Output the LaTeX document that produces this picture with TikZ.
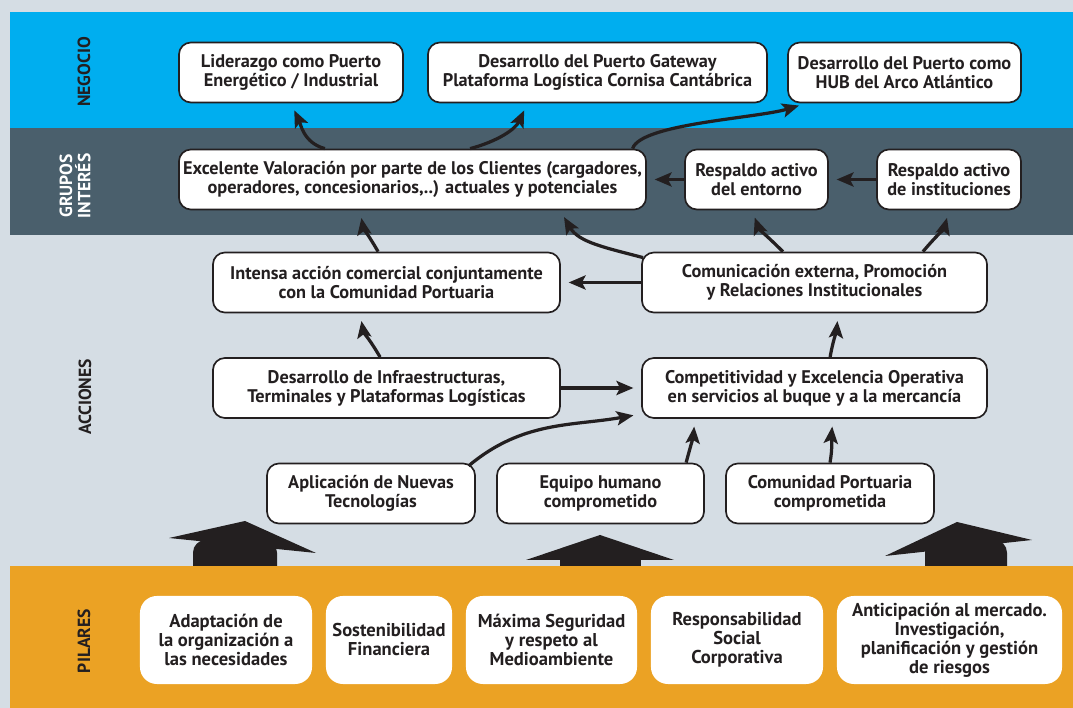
\documentclass[tikz,border=0pt]{standalone}
\usepackage{fontspec}
\setsansfont{PT Sans}
\usetikzlibrary{arrows.meta}
\definecolor{ink}{RGB}{35,31,32}
\definecolor{cBack}{RGB}{213,221,228}
\definecolor{cNeg}{RGB}{0,174,239}
\definecolor{cGrp}{RGB}{74,95,108}
\definecolor{cPil}{RGB}{235,162,36}

\begin{document}
\begin{tikzpicture}[
  x=0.025cm, y=0.025cm,
  font=\sffamily\bfseries,
  >={Stealth[length=12pt, width=10pt, inset=2.5pt]},
  goal/.style={rounded corners=8.5pt, draw=ink, line width=1.2pt, fill=white, text=ink, align=center, minimum height=1.5cm, inner sep=1pt, font=\sffamily\bfseries\fontsize{13}{13.5}\selectfont},
  pilar/.style={rounded corners=12pt, fill=white, text=ink, align=center, minimum height=2.2cm, inner sep=1pt, font=\sffamily\bfseries\fontsize{13.2}{13.5}\selectfont},
  band/.style={rotate=90, align=center, text=ink, font=\sffamily\bfseries\fontsize{12.5}{13}\selectfont},
  link/.style={->, line width=2.3pt, draw=ink, shorten >=5.5pt},
]

% ---- bands ----
\fill[cBack] (0,0) rectangle (1073,708);
\useasboundingbox (0,0) rectangle (1073,708);
\fill[cNeg] (10,580) rectangle (1073,696);
\fill[cGrp] (10,473) rectangle (1073,580);

% ---- the three caps standing on the pillars ----
\fill[ink] (169,170) -- (245,187) -- (316,155) -- cycle;
\fill[ink, rounded corners=9pt] (193,120) -- (193,168) -- (277,168) -- (277,120) -- cycle;
\fill[ink] (526,148) -- (600,173) -- (674,148) -- cycle;
\fill[ink] (560,120) rectangle (641,150);
\fill[ink] (885,152) -- (957,186) -- (1032,168) -- cycle;
\fill[ink, rounded corners=9pt] (925,120) -- (925,168) -- (1007,168) -- (1007,120) -- cycle;

\fill[cPil] (10,0) rectangle (1073,142);

% ---- band labels ----
\node[band] (lNeg) at (84,636) {NEGOCIO};
\node[band, text=white] (lGrp) at (75,522) {GRUPOS\\INTERÉS};
\node[band] (lAcc) at (85,311) {ACCIONES};
\node[band] (lPil) at (84,67) {PILARES};

% ---- negocio ----
\node[goal, minimum width=5.6cm] (N1) at (291,635.5) {Liderazgo como Puerto\\Energético / Industrial};
\node[goal, minimum width=8.475cm] (N2) at (597.5,635.5) {Desarrollo del Puerto Gateway\\Plataforma Logística Cornisa Cantábrica};
\node[goal, minimum width=5.825cm] (N3) at (904.5,635.5) {Desarrollo del Puerto como\\HUB del Arco Atlántico};

% ---- grupos de interes ----
\node[goal, minimum width=11.675cm] (G1) at (412.5,528.5) {Excelente Valoración por parte de los Clientes (cargadores,\\operadores, concesionarios,..) actuales y potenciales};
\node[goal, minimum width=3.575cm] (G2) at (756.5,528.5) {Respaldo activo\\del entorno};
\node[goal, minimum width=3.6cm] (G3) at (949,528.5) {Respaldo activo\\de instituciones};

% ---- acciones ----
\node[goal, minimum width=8.675cm] (A1) at (386.5,425.5) {Intensa acción comercial conjuntamente\\con la Comunidad Portuaria};
\node[goal, minimum width=8.625cm] (A2) at (814.5,425.5) {Comunicación externa, Promoción\\y Relaciones Institucionales};
\node[goal, minimum width=8.675cm] (A3) at (386.5,320) {Desarrollo de Infraestructuras,\\Terminales y Plataformas Logísticas};
\node[goal, minimum width=8.625cm] (A4) at (814.5,320) {Competitividad y Excelencia Operativa\\en servicios al buque y a la mercancía};
\node[goal, minimum width=5.2cm] (A5) at (371,214.5) {Aplicación de Nuevas\\Tecnologías};
\node[goal, minimum width=5.175cm] (A6) at (600.5,214.5) {Equipo humano\\comprometido};
\node[goal, minimum width=5.2cm] (A7) at (830,214.5) {Comunidad Portuaria\\comprometida};

% ---- pilares ----
\node[pilar, minimum width=4.3cm] (P1) at (226,68) {Adaptación de\\la organización a\\las necesidades};
\node[pilar, minimum width=3.15cm] (P2) at (389,68) {Sostenibilidad\\Financiera};
\node[pilar, minimum width=4.275cm] (P3) at (551.5,68) {Máxima Seguridad\\y respeto al\\Medioambiente};
\node[pilar, minimum width=4.3cm] (P4) at (737,68) {Responsabilidad\\Social\\Corporativa};
\node[pilar, minimum width=5.625cm] (P5) at (949.5,68) {Anticipación al mercado.\\Investigación,\\planificación y gestión\\de riesgos};

% ---- links ----
\draw[link] ([xshift=-2.19cm]G1.north) to[out=165,in=-65] (N1.south);
\draw[link] ([xshift=1.44cm]G1.north) to[out=15,in=-115] ([xshift=-1.75cm]N2.south);
\draw[link] ([xshift=5.5cm]G1.north) .. controls +(8,25) and +(-50,-15) .. ([xshift=-2.45cm]N3.south);
\draw[link] (G2.west) -- (G1.east);
\draw[link] (G3.west) -- (G2.east);

\draw[link] ([shift={(0.05cm,-0.15cm)}]A2.north west) to[out=165,in=-60] ([xshift=3.69cm]G1.south);
\draw[link] ([xshift=-0.79cm]A2.north) to[out=135,in=-70] ([xshift=-0.11cm]G2.south);
\draw[link] ([xshift=2.71cm]A2.north) to[out=50,in=-105] (G3.south);
\draw[link] ([xshift=-0.21cm]A1.north) to[out=120,in=-80] ([xshift=-1.31cm]G1.south);
\draw[link] (A2.west) -- (A1.east);
\draw[link] ([xshift=-0.16cm]A3.north) to[out=120,in=-80] ([xshift=-0.66cm]A1.south);
\draw[link] (A3.east) -- (A4.west);
\draw[link] ([shift={(-0.18cm,-0.08cm)}]A5.north east) to[out=40,in=190] ([yshift=-0.65cm]A4.west);
\draw[link] ([xshift=2.14cm]A6.north) to[out=75,in=-95] ([xshift=-2.99cm]A4.south);
\draw[link] (A7.north) to[out=80,in=-95] ([xshift=0.46cm]A4.south);
\draw[link] ([xshift=0.39cm]A4.north) to[out=80,in=-95] ([xshift=0.59cm]A2.south);

\end{tikzpicture}
\end{document}
